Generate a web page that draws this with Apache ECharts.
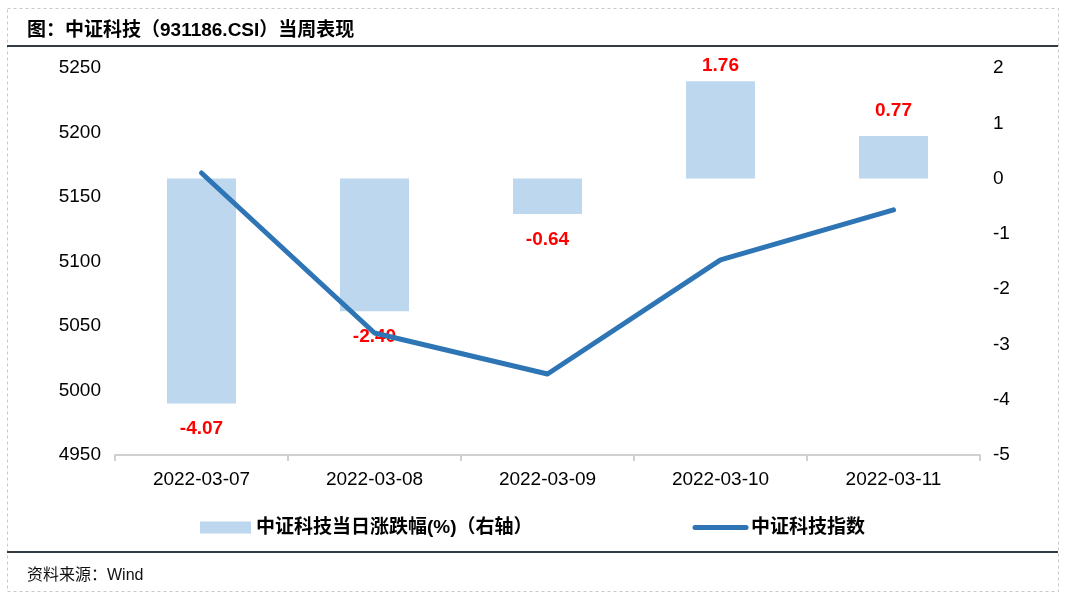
<!DOCTYPE html>
<html>
<head>
<meta charset="utf-8">
<script src="https://cdn.jsdelivr.net/npm/echarts@6/dist/echarts.min.js"></script>
<style>
html,body{margin:0;padding:0;background:#fff;}
#chart{width:1070px;height:599px;}
</style>
</head>
<body>
<div id="chart"></div>
<script>
const categories = ['2022-03-07','2022-03-08','2022-03-09','2022-03-10','2022-03-11'];
const changePct = [-4.07, -2.40, -0.64, 1.76, 0.77];
const indexValues = [5168.6, 5044.6, 5012.8, 5101.2, 5140.0];
const leftTicks = {min: 4950, max: 5250, interval: 50};
const rightTicks = {min: -5, max: 2, interval: 1};
const barName = '中证科技当日涨跌幅(%)（右轴）';
const lineName = '中证科技指数';

const FONT = "'Liberation Sans', 'Noto Sans CJK SC', sans-serif";
const chart = echarts.init(document.getElementById('chart'));

const barData = changePct.map(function (v, i) {
  const item = {
    value: v,
    label: {position: v < 0 ? 'bottom' : 'top', distance: 16}
  };
  if (i === 3) item.label.distance = 6;
  return item;
});

chart.setOption({
  animation: false,
  backgroundColor: '#fff',
  textStyle: {fontFamily: FONT},
  title: [
    {text: '图：中证科技（931186.CSI）当周表现', left: 22, top: 16,
     textStyle: {fontSize: 19, fontWeight: 'bold', color: '#000', fontFamily: FONT}},
    {text: '资料来源：Wind', left: 22, top: 563,
     textStyle: {fontSize: 16, fontWeight: 'normal', color: '#111', fontFamily: FONT}}
  ],
  graphic: [
    {type: 'rect', shape: {x: 7.5, y: 8.5, width: 1051, height: 583}, silent: true,
     style: {fill: 'none', stroke: '#c8c8c8', lineWidth: 1, lineDash: [3, 3]}},
    {type: 'line', shape: {x1: 7, y1: 46, x2: 1058, y2: 46}, silent: true,
     style: {stroke: '#333c45', lineWidth: 2}},
    {type: 'line', shape: {x1: 7, y1: 552, x2: 1058, y2: 552}, silent: true,
     style: {stroke: '#333c45', lineWidth: 2}}
  ],
  grid: {left: 115, right: 90, top: 68, bottom: 144},
  legend: {
    left: 195, top: 513, itemGap: 160, itemWidth: 51, itemHeight: 12,
    textStyle: {fontSize: 19, fontWeight: 'bold', color: '#000', fontFamily: FONT},
    data: [
      {name: barName, icon: 'rect'},
      {name: lineName, itemStyle: {opacity: 0},
       lineStyle: {width: 5, color: '#2E75B6', cap: 'round'}}
    ]
  },
  xAxis: {
    type: 'category', data: categories, boundaryGap: true,
    axisLine: {onZero: false, lineStyle: {color: '#d0d0d0', width: 2}},
    axisTick: {show: true, alignWithLabel: false, length: 6, lineStyle: {color: '#d0d0d0', width: 2}},
    axisLabel: {fontSize: 19, color: '#000', margin: 15, fontFamily: FONT}
  },
  yAxis: [
    {type: 'value', min: leftTicks.min, max: leftTicks.max, interval: leftTicks.interval,
     axisLine: {show: false}, axisTick: {show: false}, splitLine: {show: false},
     axisLabel: {fontSize: 19, color: '#000', margin: 14, fontFamily: FONT,
       formatter: function (v) { return String(v); }}},
    {type: 'value', min: rightTicks.min, max: rightTicks.max, interval: rightTicks.interval,
     position: 'right',
     axisLine: {show: false}, axisTick: {show: false}, splitLine: {show: false},
     axisLabel: {fontSize: 19, color: '#000', margin: 13, fontFamily: FONT}}
  ],
  series: [
    {name: barName, type: 'bar', yAxisIndex: 1, data: barData, barWidth: 69,
     itemStyle: {color: '#BDD7EE'},
     label: {show: true, color: '#FF0000', fontWeight: 'bold', fontSize: 19, fontFamily: FONT,
       formatter: function (p) { return p.value.toFixed(2); }},
     z: 2},
    {name: lineName, type: 'line', yAxisIndex: 0, data: indexValues,
     symbol: 'none', smooth: false,
     lineStyle: {color: '#2E75B6', width: 5, cap: 'round', join: 'round'},
     itemStyle: {color: '#2E75B6'},
     z: 3}
  ]
});
</script>
</body>
</html>
